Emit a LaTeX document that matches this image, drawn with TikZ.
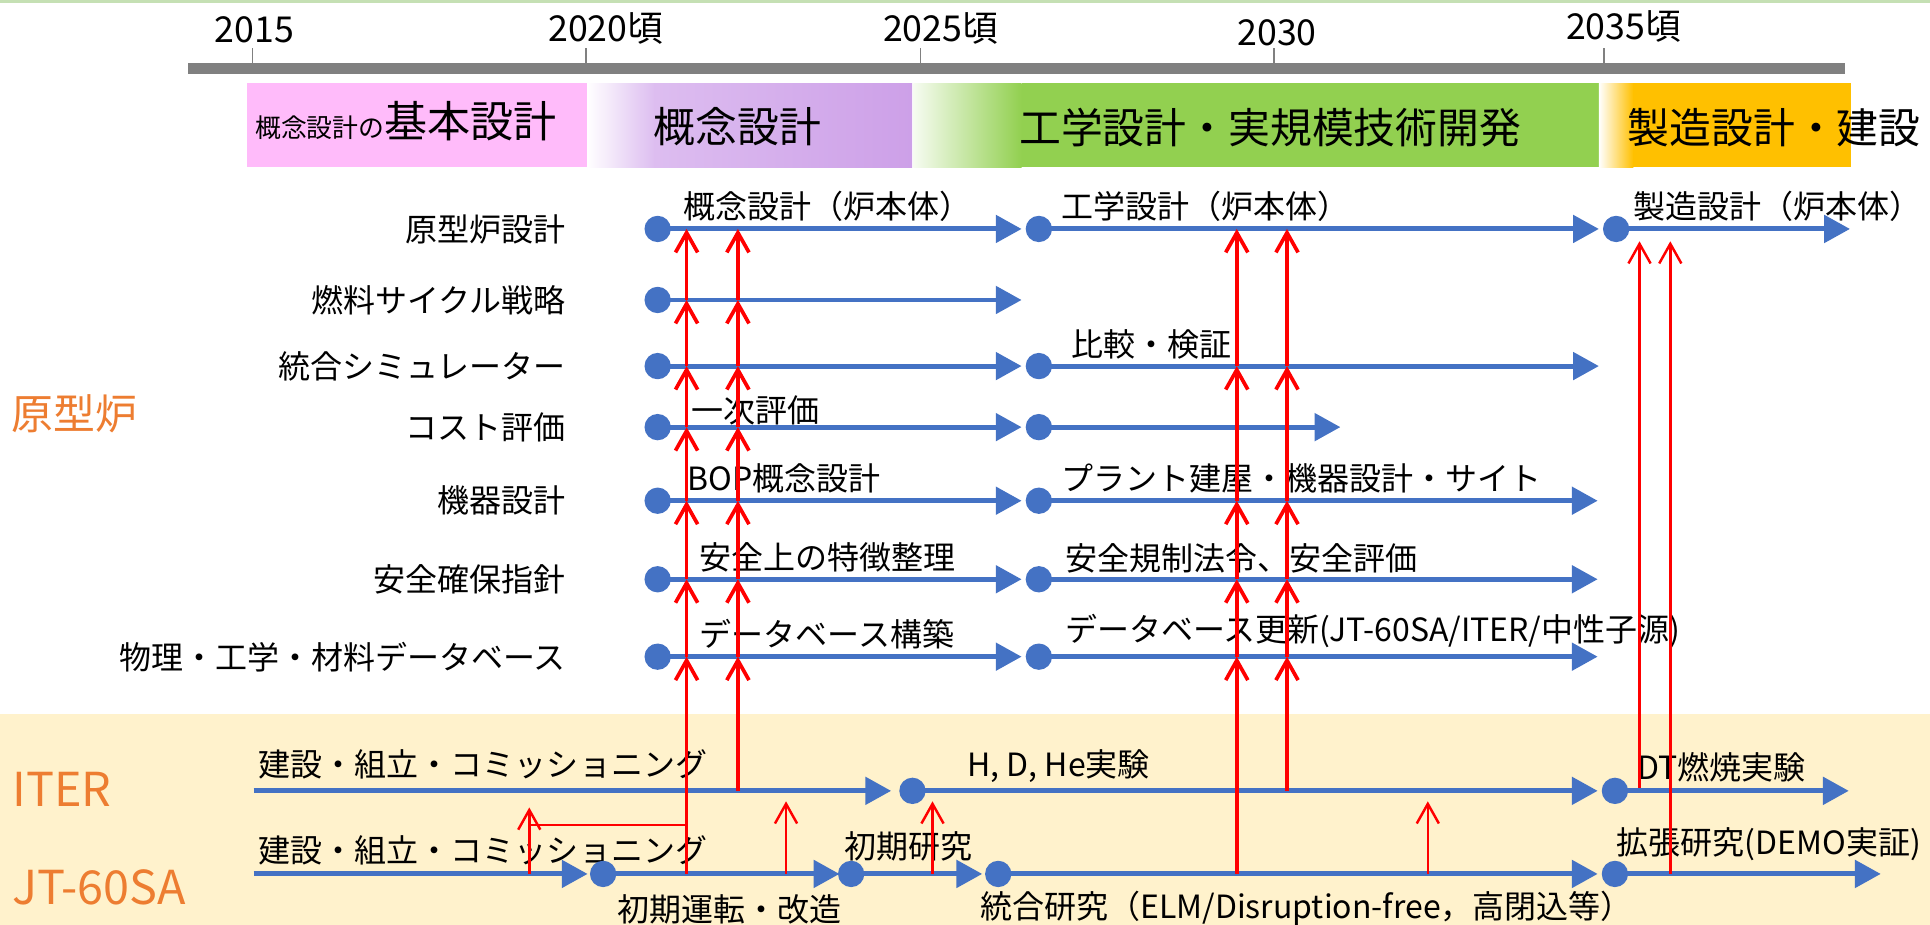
\documentclass[tikz,border=0pt]{standalone}
\usepackage{fontspec}
\setmainfont{Noto Sans CJK JP}
\usetikzlibrary{arrows.meta}
\definecolor{bblue}{HTML}{4472C4}
\definecolor{oorange}{HTML}{ED7D31}
\definecolor{bgyellow}{HTML}{FFF2CC}
\definecolor{ppink}{HTML}{FFBBFA}
\definecolor{lavA}{HTML}{DDBDF0}
\definecolor{lavB}{HTML}{CDA0E8}
\definecolor{ggreen}{HTML}{92D050}
\definecolor{ggold}{HTML}{FFC000}
\definecolor{topgreen}{HTML}{C5E0B4}
\definecolor{bargray}{HTML}{808080}
\begin{document}
\begin{tikzpicture}[x=0.5pt,y=-0.5pt,
  rowlab/.style={anchor=east, inner sep=0pt, font=\fontsize{13}{15}\selectfont},
  seglab/.style={anchor=west, inner sep=0pt, font=\fontsize{13}{15}\selectfont},
  bandlab/.style={inner sep=0pt, font=\fontsize{17}{20}\selectfont},
  yearlab/.style={anchor=west, inner sep=0pt, font=\fontsize{14.5}{17}\selectfont},
  grouplab/.style={anchor=west, inner sep=0pt, text=oorange},
  dot/.style={circle, fill=bblue, minimum size=10.7pt, inner sep=0pt},
  blueline/.style={draw=bblue, line width=2pt, -{Triangle[length=10.5pt,width=11pt]}},
  redthick/.style={draw=red, line width=1.5pt, -{Straight Barb[length=8pt,width=9pt]}},
  redthin/.style={draw=red, line width=1pt, -{Straight Barb[length=8pt,width=9pt]}},
  redplain/.style={draw=red, line width=1pt},
  tickline/.style={draw=bargray, line width=0.6pt}
]
\useasboundingbox (0,0) rectangle (1568,751.4);

% backgrounds
\fill[topgreen] (0,0) rectangle (1568,2.2);
\fill[bgyellow] (0,580) rectangle (1568,751.4);

% timeline
\fill[bargray] (153,51) rectangle (1499,60);
\foreach \tx in {205,476,748,1035,1303} \draw[tickline] (\tx,39) -- (\tx,51);
\node[yearlab] (y2015) at (174,24) {2015};
\node[yearlab] (y2020) at (445,23) {2020頃};
\node[yearlab] (y2025) at (717,23) {2025頃};
\node[yearlab] (y2030) at (1005,27) {2030};
\node[yearlab] (y2035) at (1272,21.5) {2035頃};

% phase bands
\fill[ppink] (200.6,67.7) rectangle (477,135.7);
\shade[left color=white, right color=lavA] (477,67.7) rectangle (532,135.7);
\shade[left color=lavA, right color=lavB] (532,67.7) rectangle (741,135.7);
\shade[left color=ggreen!8, right color=ggreen] (742,67.7) rectangle (830,135.7);
\fill[ggreen] (830,67.7) rectangle (1305,135.7);
\shade[left color=white, right color=ggold] (1299,67.7) rectangle (1327,135.7);
\fill[ggold] (1327,67.7) rectangle (1504,135.7);

\node[anchor=base west, inner sep=0pt] (band1) at (207,112) {{\fontsize{10.5}{12}\selectfont 概念設計の}{\fontsize{17.5}{20}\selectfont 基本設計}};
\node[bandlab] (band2) at (599,103) {概念設計};
\node[bandlab] (band3) at (1032,103.5) {工学設計・実規模技術開発};
\node[bandlab, anchor=west] (band4) at (1322,103.5) {製造設計・建設};

% group labels
\node[grouplab, font=\fontsize{17}{20}\selectfont] (gDemo) at (9.3,336) {原型炉};
\node[grouplab, font=\fontsize{19}{22}\selectfont] (gITER) at (9.7,641) {ITER};
\node[grouplab, font=\fontsize{19}{22}\selectfont] (gJT) at (9.7,721) {JT-60SA};

% row labels
\node[rowlab] (L1) at (460,186) {原型炉設計};
\node[rowlab] (L2) at (460,243.7) {燃料サイクル戦略};
\node[rowlab] (L3) at (460,297.4) {統合シミュレーター};
\node[rowlab] (L4) at (460,347) {コスト評価};
\node[rowlab] (L5) at (460,406.8) {機器設計};
\node[rowlab] (L6) at (460,470.6) {安全確保指針};
\node[rowlab] (L7) at (460,533.5) {物理・工学・材料データベース};

% segment labels
\node[seglab] (t1a) at (555,168) {概念設計（炉本体）};
\node[seglab] (t1b) at (862,168) {工学設計（炉本体）};
\node[seglab] (t1c) at (1327,168) {製造設計（炉本体）};
\node[seglab] (t3b) at (870,280) {比較・検証};
\node[seglab] (t4a) at (561.6,333) {一次評価};
\node[seglab] (t5a) at (558,389) {BOP概念設計};
\node[seglab] (t5b) at (862,389) {プラント建屋・機器設計・サイト};
\node[seglab] (t6a) at (568,453) {安全上の特徴整理};
\node[seglab] (t6b) at (865,453.6) {安全規制法令、安全評価};
\node[seglab] (t7a) at (568,515) {データベース構築};
\node[seglab] (t7b) at (865,513) {データベース更新(JT-60SA/ITER/中性子源)};
\node[seglab] (tI1) at (210,621) {建設・組立・コミッショニング};
\node[seglab] (tI2) at (785.6,622.5) {H, D, He実験};
\node[seglab] (tI3) at (1330,623.5) {DT燃焼実験};
\node[seglab] (tJ1) at (210,691) {建設・組立・コミッショニング};
\node[seglab] (tJ2) at (501,739) {初期運転・改造};
\node[seglab] (tJ3) at (686,688) {初期研究};
\node[seglab] (tJ4) at (796,738) {統合研究（ELM/Disruption-free，高閉込等）};
\node[seglab] (tJ5) at (1313,686) {拡張研究(DEMO実証)};

% blue timelines: rows
\foreach \n/\y in {1/186,2/243.7,3/297.4,4/347,5/406.8,6/470.6,7/533.5} {
  \node[dot] (d\n a) at (534.3,\y) {};
  \coordinate (e\n a) at (830,\y);
  \draw[blueline] (d\n a.center) -- (e\n a);
}
\foreach \n/\y/\ex in {1/186/1299,3/297.4/1299,4/347/1089,5/406.8/1298,6/470.6/1298,7/533.5/1298} {
  \node[dot] (d\n b) at (844,\y) {};
  \coordinate (e\n b) at (\ex,\y);
  \draw[blueline] (d\n b.center) -- (e\n b);
}
\node[dot] (d1c) at (1313,186) {};
\coordinate (e1c) at (1503,186);
\draw[blueline] (d1c.center) -- (e1c);

% ITER line
\coordinate (I0) at (206,642.5);
\coordinate (I1e) at (724,642.5);
\node[dot] (I2) at (741.3,642.5) {};
\coordinate (I2e) at (1298,642.5);
\node[dot] (I3) at (1312,642.5) {};
\coordinate (I3e) at (1502,642.5);
\draw[blueline] (I0) -- (I1e);
\draw[blueline] (I2.center) -- (I2e);
\draw[blueline] (I3.center) -- (I3e);

% JT-60SA line
\coordinate (J0) at (206,710);
\coordinate (J1e) at (477.4,710);
\node[dot] (J2) at (490,710) {};
\coordinate (J2e) at (682,710);
\node[dot] (J3) at (691.5,710) {};
\coordinate (J3e) at (798,710);
\node[dot] (J4) at (811,710) {};
\coordinate (J4e) at (1298,710);
\node[dot] (J5) at (1312,710) {};
\coordinate (J5e) at (1528,710);
\draw[blueline] (J0) -- (J1e);
\draw[blueline] (J2.center) -- (J2e);
\draw[blueline] (J3.center) -- (J3e);
\draw[blueline] (J4.center) -- (J4e);
\draw[blueline] (J5.center) -- (J5e);

% red connections
\foreach \n/\y in {1/186,2/243.7,3/297.4,4/347,5/406.8,6/470.6,7/533.5} {
  \coordinate (A\n) at (557.8,\y);
  \coordinate (B\n) at (599.5,\y);
  \coordinate (C\n) at (1004.8,\y);
  \coordinate (D\n) at (1045.6,\y);
}
\coordinate (A0) at (557.8,710);
\coordinate (B0) at (599.5,642.5);
\coordinate (C0) at (1004.8,710);
\coordinate (D0) at (1045.6,642.5);
\draw[redthick] (A0) -- (A7);
\draw[redthick] (B0) -- (B7);
\foreach \a/\b in {7/6,6/5,5/4,4/3,3/2,2/1} {
  \draw[redthick] (A\a) -- (A\b);
  \draw[redthick] (B\a) -- (B\b);
}
\draw[redthick] (C0) -- (C7);
\draw[redthick] (D0) -- (D7);
\foreach \a/\b in {7/6,6/5,5/3,3/1} {
  \draw[redthick] (C\a) -- (C\b);
  \draw[redthick] (D\a) -- (D\b);
}
\coordinate (E0) at (1332,640);
\coordinate (E1) at (1332,196);
\coordinate (F0) at (1357,710);
\coordinate (F1) at (1357,196);
\draw[redthin] (E0) -- (E1);
\draw[redthin] (F0) -- (F1);

% small arrows from JT-60SA to ITER
\coordinate (K1) at (557.8,670.2);
\coordinate (K2) at (430,670.2);
\draw[redplain] (K1) -- (K2);
\coordinate (S1) at (430,710);
\coordinate (S1t) at (430,656);
\draw[redthin] (S1) -- (S1t);
\coordinate (S2) at (638.6,710);
\coordinate (S2t) at (638.6,651);
\draw[redthin] (S2) -- (S2t);
\coordinate (S3) at (757.6,710);
\coordinate (S3t) at (757.6,651);
\draw[redthin] (S3) -- (S3t);
\coordinate (S4) at (1160,710);
\coordinate (S4t) at (1160,651);
\draw[redthin] (S4) -- (S4t);
\end{tikzpicture}
\end{document}
